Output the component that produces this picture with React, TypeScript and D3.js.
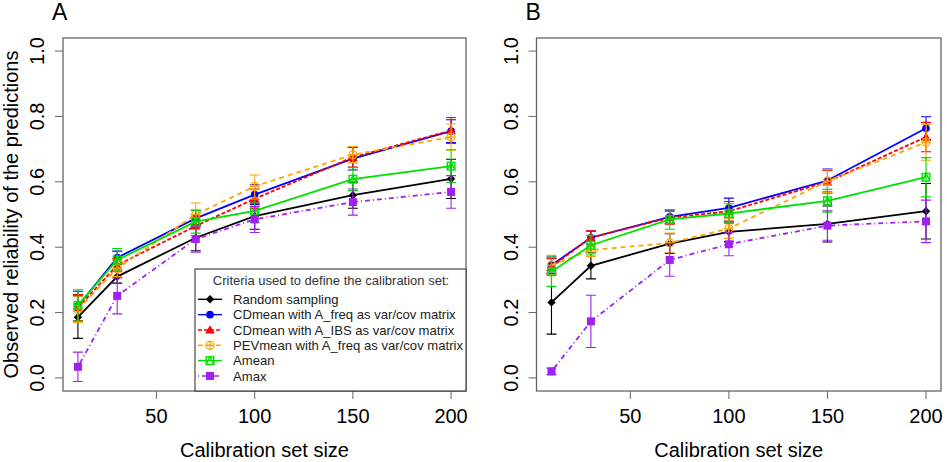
import React from 'react';
import * as d3 from 'd3';

// calibration set sizes (x)
const sizes = [10, 30, 70, 100, 150, 200];
const yTicks = [0, 0.2, 0.4, 0.6, 0.8, 1.0];
const xTicks = [50, 100, 150, 200];

const seriesNames = [
  'Random sampling',
  'CDmean with A_freq as var/cov matrix',
  'CDmean with A_IBS as var/cov matrix',
  'PEVmean with A_freq as var/cov matrix',
  'Amean',
  'Amax',
];
const seriesColors = ['#000000', '#0000ff', '#ff0000', '#ffa500', '#00e000', '#a020f0'];
const seriesDash = [null, null, '4,2', '5,4', null, '1,3,5,3'];
const seriesShape = ['diamond', 'circle', 'triangle', 'circlePlus', 'squareTri', 'square'];

// panel A: means and error half-widths
const aRandom = [0.186, 0.31, 0.429, 0.495, 0.559, 0.609];
const aFreq = [0.22, 0.368, 0.488, 0.561, 0.671, 0.755];
const aIbs = [0.215, 0.345, 0.465, 0.548, 0.675, 0.757];
const aPev = [0.21, 0.335, 0.5, 0.586, 0.683, 0.737];
const aMean = [0.222, 0.361, 0.478, 0.511, 0.608, 0.648];
const aMax = [0.034, 0.251, 0.425, 0.485, 0.538, 0.569];

const aRandomErr = [0.065, 0.02, 0.04, 0.04, 0.04, 0.06];
const aFreqErr = [0.045, 0.02, 0.025, 0.03, 0.035, 0.035];
const aIbsErr = [0.04, 0.02, 0.03, 0.03, 0.03, 0.04];
const aPevErr = [0.04, 0.025, 0.035, 0.035, 0.025, 0.04];
const aMeanErr = [0.048, 0.035, 0.035, 0.035, 0.035, 0.05];
const aMaxErr = [0.045, 0.055, 0.04, 0.04, 0.04, 0.05];

// panel B
const bRandom = [0.231, 0.343, 0.411, 0.447, 0.471, 0.51];
const bFreq = [0.345, 0.429, 0.493, 0.52, 0.604, 0.764];
const bIbs = [0.34, 0.43, 0.49, 0.51, 0.6, 0.737];
const bPev = [0.345, 0.391, 0.413, 0.457, 0.602, 0.721];
const bMean = [0.325, 0.406, 0.485, 0.503, 0.542, 0.614];
const bMax = [0.02, 0.173, 0.361, 0.409, 0.466, 0.479];

const bRandomErr = [0.097, 0.04, 0.03, 0.03, 0.055, 0.085];
const bFreqErr = [0.025, 0.02, 0.02, 0.03, 0.035, 0.035];
const bIbsErr = [0.025, 0.02, 0.02, 0.03, 0.035, 0.045];
const bPevErr = [0.03, 0.02, 0.03, 0.03, 0.035, 0.055];
const bMeanErr = [0.045, 0.03, 0.03, 0.03, 0.035, 0.06];
const bMaxErr = [0.01, 0.08, 0.05, 0.035, 0.045, 0.065];

const W = 947;
const H = 462;
const TOP = 38;
const BOTTOM = 391;
const FONT = '"Liberation Sans", Arial, Helvetica, sans-serif';
const BOX = '#666';

const Marker = ({ shape, x, y, color }) => {
  if (shape === 'diamond') {
    const r = 4.2;
    return <path d={`M${x},${y - r}L${x + r},${y}L${x},${y + r}L${x - r},${y}Z`} fill={color} />;
  }
  if (shape === 'circle') return <circle cx={x} cy={y} r={3.8} fill={color} />;
  if (shape === 'triangle') {
    const r = 4.8;
    return <path d={`M${x},${y - r}L${x + r},${y + r * 0.75}L${x - r},${y + r * 0.75}Z`} fill={color} />;
  }
  if (shape === 'circlePlus') {
    const r = 4;
    return (
      <g stroke={color} fill="none" strokeWidth={1.3}>
        <circle cx={x} cy={y} r={r} />
        <path d={`M${x - r},${y}H${x + r}M${x},${y - r}V${y + r}`} />
      </g>
    );
  }
  if (shape === 'squareTri') {
    const r = 3.8;
    return (
      <g stroke={color} fill="none" strokeWidth={1.4}>
        <rect x={x - r} y={y - r} width={2 * r} height={2 * r} />
        <path d={`M${x - r},${y + r}L${x},${y - r}L${x + r},${y + r}`} />
      </g>
    );
  }
  const r = 4;
  return <rect x={x - r} y={y - r} width={2 * r} height={2 * r} fill={color} />;
};

const Panel = ({ label, left, right, means, errs, yTitle, legend }) => {
  const x = d3.scaleLinear().domain([2.4, 207.6]).range([left, right]);
  const y = d3.scaleLinear().domain([-0.04, 1.04]).range([BOTTOM, TOP]);
  const line = d3.line<number>().x((_, i) => x(sizes[i])).y((d) => y(d));

  return (
    <g>
      <text x={left - 11} y={20} fontSize={23} fontFamily={FONT}>{label}</text>
      <rect x={left} y={TOP} width={right - left} height={BOTTOM - TOP} fill="none" stroke={BOX} strokeWidth={1.3} />
      {yTicks.map((t) => (
        <g key={'y' + t}>
          <line x1={left - 8} x2={left} y1={y(t)} y2={y(t)} stroke={BOX} />
          <text transform={`translate(${left - 26},${y(t)}) rotate(-90)`} textAnchor="middle" dy="0.35em"
            fontSize={20} fontFamily={FONT}>{t.toFixed(1)}</text>
        </g>
      ))}
      {xTicks.map((t) => (
        <g key={'x' + t}>
          <line x1={x(t)} x2={x(t)} y1={BOTTOM} y2={BOTTOM + 8} stroke={BOX} />
          <text x={x(t)} y={423} textAnchor="middle" fontSize={20} fontFamily={FONT}>{t}</text>
        </g>
      ))}
      <text x={(left + right) / 2} y={457} textAnchor="middle" fontSize={20} fontFamily={FONT}>Calibration set size</text>
      {yTitle && (
        <text transform={`translate(18,${(TOP + BOTTOM) / 2}) rotate(-90)`} textAnchor="middle" fontSize={20}
          fontFamily={FONT}>Observed reliability of the predictions</text>
      )}
      {means.map((vals, s) => (
        <g key={'s' + s}>
          {vals.map((v, i) => {
            const cx = x(sizes[i]);
            const e = errs[s][i];
            return (
              <path key={i} d={`M${cx},${y(v - e)}V${y(v + e)}M${cx - 5},${y(v - e)}H${cx + 5}M${cx - 5},${y(v + e)}H${cx + 5}`}
                stroke={seriesColors[s]} strokeWidth={1.1} fill="none" />
            );
          })}
          <path d={line(vals) || ''} fill="none" stroke={seriesColors[s]} strokeWidth={1.8}
            strokeDasharray={seriesDash[s] || undefined} />
          {vals.map((v, i) => (
            <Marker key={'m' + i} shape={seriesShape[s]} x={x(sizes[i])} y={y(v)} color={seriesColors[s]} />
          ))}
        </g>
      ))}
      {legend && (
        <g fontFamily={FONT}>
          <rect x={195} y={269} width={right - 195} height={BOTTOM - 269} fill="#fff" stroke="#222" strokeWidth={1} />
          <text x={331} y={284.5} textAnchor="middle" fontSize={13} fill="#333">Criteria used to define the calibration set:</text>
          {seriesNames.map((n, s) => {
            const cy = 299.3 + s * 15.33;
            return (
              <g key={'l' + s}>
                <line x1={198} x2={222} y1={cy} y2={cy} stroke={seriesColors[s]} strokeWidth={1.4}
                  strokeDasharray={seriesDash[s] || undefined} />
                <Marker shape={seriesShape[s]} x={210} y={cy} color={seriesColors[s]} />
                <text x={233} y={cy} dy="0.35em" fontSize={13.1} fill="#222">{n}</text>
              </g>
            );
          })}
        </g>
      )}
    </g>
  );
};

export default function App() {
  return (
    <svg width={W} height={H} style={{ position: 'absolute', left: 0, top: 0, background: '#fff' }}>
      <Panel label="A" left={63} right={466} yTitle legend
        means={[aRandom, aFreq, aIbs, aPev, aMean, aMax]}
        errs={[aRandomErr, aFreqErr, aIbsErr, aPevErr, aMeanErr, aMaxErr]} />
      <Panel label="B" left={536.5} right={941} yTitle={false} legend={false}
        means={[bRandom, bFreq, bIbs, bPev, bMean, bMax]}
        errs={[bRandomErr, bFreqErr, bIbsErr, bPevErr, bMeanErr, bMaxErr]} />
    </svg>
  );
}
